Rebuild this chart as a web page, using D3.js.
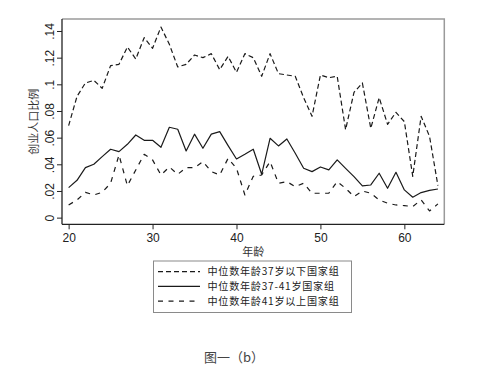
<!DOCTYPE html>
<html><head><meta charset="utf-8">
<script src="https://cdn.jsdelivr.net/npm/d3@7"></script>
<style>
html,body{margin:0;padding:0;background:#fff;}
svg{display:block;}
</style></head>
<body>
<svg id="c" width="487" height="373"></svg>
<script>
const ages = d3.range(20, 65);
const under37 = [0.069,0.091,0.101,0.103,0.097,0.114,0.115,0.128,0.119,0.135,0.127,0.143,0.130,0.113,0.115,
  0.122,0.120,0.123,0.111,0.121,0.109,0.123,0.120,0.106,0.123,0.108,0.107,0.106,0.090,0.076,
  0.107,0.105,0.106,0.066,0.094,0.101,0.067,0.090,0.070,0.079,0.072,0.031,0.076,0.061,0.024];
const mid37to41 = [0.0225,0.028,0.0375,0.040,0.0458,0.0513,0.0495,0.055,0.062,0.058,0.058,0.0528,0.0678,0.0663,0.050,
  0.0626,0.052,0.0626,0.0645,0.054,0.044,0.0475,0.0513,0.0325,0.0595,0.0538,0.059,0.0483,0.037,0.0345,
  0.038,0.0358,0.0433,0.037,0.0308,0.0238,0.0245,0.0333,0.022,0.034,0.0208,0.0153,0.0188,0.0205,0.0215];
const over41 = [0.0095,0.0133,0.019,0.017,0.019,0.0258,0.047,0.024,0.0358,0.0475,0.0433,0.032,0.038,0.0325,0.0375,
  0.0375,0.042,0.0345,0.032,0.0445,0.037,0.017,0.031,0.032,0.042,0.0258,0.027,0.0233,0.0258,0.0183,
  0.0183,0.0183,0.027,0.022,0.0158,0.020,0.0183,0.0133,0.0108,0.0095,0.009,0.0083,0.0133,0.005,0.0103];
const xTicks = [20,30,40,50,60];
const yTicks = [0,0.02,0.04,0.06,0.08,0.10,0.12,0.14];
const yTickLabels = ["0",".02",".04",".06",".08",".1",".12",".14"];
const seriesNames = ["中位数年龄37岁以下国家组","中位数年龄37-41岁国家组","中位数年龄41岁以上国家组"];
const xTitle = "年龄";
const yTitle = "创业人口比例";
const caption = "图一（b）";

const latin = "'Liberation Sans', Arial, 'Noto Sans CJK SC', sans-serif";
const cjk = "'Noto Sans CJK SC', 'Liberation Sans', sans-serif";
const ink = "#222";

const svg = d3.select("#c");
const L = 62, R = 444.3, T = 19, B = 224.3;
const x = d3.scaleLinear().domain([19.21, 64.76]).range([L, R]);
const y = d3.scaleLinear().domain([-0.005, 0.149]).range([B, T]);

// plot frame (top/right grey)
svg.append("path")
  .attr("d", `M${L},${T}H${R}V${B}`)
  .attr("fill","none").attr("stroke","#9a9a9a").attr("stroke-width",1.5);

// y axis
const ya = svg.append("g").attr("transform",`translate(${L},0)`)
  .call(d3.axisLeft(y).tickValues(yTicks).tickSize(5).tickSizeOuter(0)
    .tickFormat((d,i)=>yTickLabels[i]));
ya.select(".domain").attr("stroke",ink).attr("stroke-width",1.3)
  .attr("d",`M0,${T}V${B}`);
ya.selectAll(".tick line").attr("stroke",ink).attr("stroke-width",1);
ya.selectAll(".tick text")
  .attr("transform","rotate(-90)").attr("x",0).attr("y",-8).attr("dy",null)
  .attr("text-anchor","middle").attr("fill",ink)
  .style("font-family",latin).style("font-size","12px");

// x axis
const xa = svg.append("g").attr("transform",`translate(0,${B})`)
  .call(d3.axisBottom(x).tickValues(xTicks).tickSize(5).tickSizeOuter(0).tickPadding(4));
xa.select(".domain").attr("stroke",ink).attr("stroke-width",1.3)
  .attr("d",`M${L},0H${R}`);
xa.selectAll(".tick line").attr("stroke",ink).attr("stroke-width",1);
xa.selectAll(".tick text").attr("fill",ink)
  .style("font-family",latin).style("font-size","12px");

// titles
svg.append("text").attr("x",(L+R)/2).attr("y",256).attr("text-anchor","middle")
  .attr("fill","#333").style("font-family",cjk).style("font-size","11px").text(xTitle);
svg.append("text").attr("transform",`translate(38,${(T+B)/2}) rotate(-90)`)
  .attr("text-anchor","middle").attr("fill","#333")
  .style("font-family",cjk).style("font-size","11px").text(yTitle);

// lines
const dashes = ["5,3", null, "5,5.5"];
const data = [under37, mid37to41, over41];
const line = d3.line().x((d,i)=>x(ages[i])).y(d=>y(d));
data.forEach((s,k)=>{
  svg.append("path").datum(s).attr("d",line)
    .attr("fill","none").attr("stroke","#1a1a1a").attr("stroke-width",1.2)
    .attr("stroke-linejoin","round")
    .attr("stroke-dasharray",dashes[k]);
});

// legend
const lg = svg.append("g");
lg.append("rect").attr("x",153.5).attr("y",261).attr("width",198).attr("height",51.5)
  .attr("fill","#fff").attr("stroke","#8a8a8a").attr("stroke-width",1);
const rowY = [271.7, 286.4, 301.1];
seriesNames.forEach((n,k)=>{
  lg.append("line").attr("x1",158).attr("x2",200).attr("y1",rowY[k]).attr("y2",rowY[k])
    .attr("stroke","#1a1a1a").attr("stroke-width",1.2).attr("stroke-dasharray",dashes[k]);
  lg.append("text").attr("x",207.5).attr("y",rowY[k]).attr("dy","0.36em")
    .attr("fill","#222").style("font-family",cjk).style("font-size","10.1px")
    .style("letter-spacing","0.75px").text(n);
});

// caption
svg.append("text").attr("x",234).attr("y",357).attr("dy","0.36em").attr("text-anchor","middle")
  .attr("fill","#444").style("font-family",cjk).style("font-size","13px").text(caption);
</script>
</body></html>
